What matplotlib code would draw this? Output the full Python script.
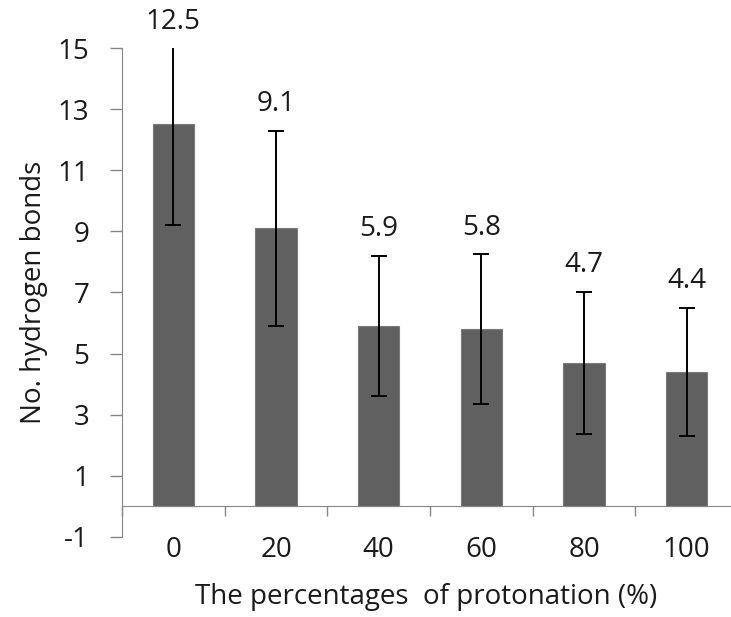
import matplotlib
matplotlib.use("Agg")
import matplotlib.pyplot as plt
import numpy as np

# values
categories = ["0", "20", "40", "60", "80", "100"]
hbonds = [12.5, 9.1, 5.9, 5.8, 4.7, 4.4]
errors = [3.3, 3.2, 2.3, 2.45, 2.33, 2.1]
value_labels = ["12.5", "9.1", "5.9", "5.8", "4.7", "4.4"]
y_ticks = [-1, 1, 3, 5, 7, 9, 11, 13, 15]

plt.rcParams['font.family'] = ['Open Sans', 'DejaVu Sans']
plt.rcParams['axes.unicode_minus'] = False

FS = 20
TXT = '#1a1a1a'

fig = plt.figure(figsize=(7.31, 6.17), dpi=100)
ax = fig.add_axes([0.1669, 0.1297, 0.8427, 0.7925])

x = np.arange(len(categories))
ax.bar(x, hbonds, width=0.4, color='#606060', edgecolor='#7a7a7a', linewidth=0.8, zorder=2)
ax.errorbar(x, hbonds, yerr=errors, fmt='none', ecolor='black', elinewidth=1.4,
            capsize=6, capthick=1.4, zorder=3)

# data labels sit above the error bar tops (clipped to axis max)
for xi, v, e, lab in zip(x, hbonds, errors, value_labels):
    top = min(v + e, y_ticks[-1])
    ax.annotate(lab, (xi, top), xytext=(0, 9), textcoords='offset points',
                ha='center', va='bottom', fontsize=FS, color=TXT,
                annotation_clip=False)

ax.set_xlim(-0.5, len(categories) - 0.5)
ax.set_ylim(y_ticks[0], y_ticks[-1])
ax.set_yticks(y_ticks)

for s in ['top', 'right']:
    ax.spines[s].set_visible(False)
ax.spines['left'].set_color('#868686')
ax.spines['bottom'].set_color('#868686')
ax.spines['bottom'].set_position(('data', 0))

# category boundaries get the tick marks, labels go at the centres
ax.set_xticks(np.arange(len(categories) + 1) - 0.5)
ax.set_xticklabels([])
ax.set_xticks(x, minor=True)
ax.set_xticklabels(categories, minor=True)
ax.tick_params(axis='x', which='major', direction='out', length=7, color='#868686', width=1)
ax.tick_params(axis='x', which='minor', length=0, pad=21, labelsize=FS, labelcolor=TXT)
ax.tick_params(axis='y', direction='out', length=8.6, color='#868686', width=1,
               labelsize=FS, labelcolor=TXT, pad=15)

ax.set_ylabel('No. hydrogen bonds', fontsize=FS, color=TXT)
ax.yaxis.set_label_coords(-0.12, 0.5)
fig.text(0.583, 0.032, 'The percentages  of protonation (%)', ha='center', va='center',
         fontsize=FS, color=TXT)

fig.savefig('out.png', dpi=100)
